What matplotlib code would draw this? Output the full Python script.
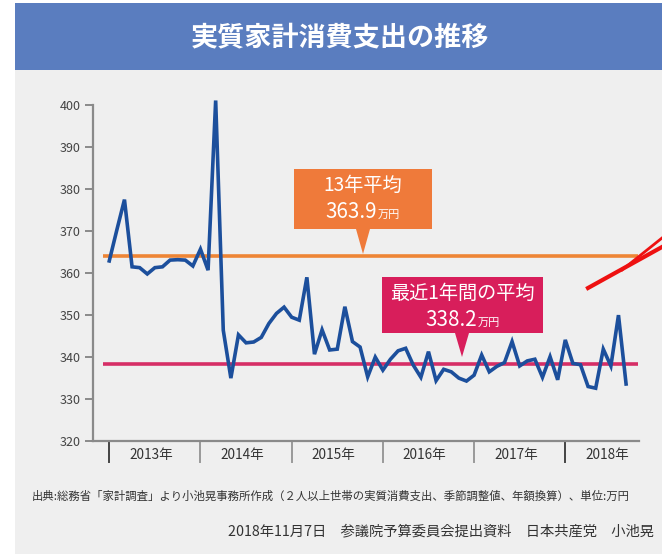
import matplotlib
matplotlib.use("Agg")
import matplotlib.pyplot as plt
from matplotlib.patches import Rectangle, Polygon
import matplotlib.transforms as mtransforms

plt.rcParams['font.family'] = ['Noto Sans CJK JP', 'DejaVu Sans']

# monthly real household consumption, Jan 2013 - Sep 2018 (万円, annualised)
spending = [362.8, 370.2, 377.4, 361.4, 361.2, 359.7, 361.2, 361.4, 363.0, 363.1,
            363.0, 361.6, 365.6, 360.6, 401.0, 346.3, 334.9, 345.2, 343.3, 343.5,
            344.6, 347.9, 350.3, 351.8, 349.4, 348.7, 358.9, 340.6, 346.4, 341.6,
            341.8, 351.9, 343.6, 342.3, 335.2, 339.9, 336.8, 339.4, 341.4, 342.0,
            338.0, 335.1, 341.2, 334.3, 337.0, 336.4, 334.9, 334.2, 335.6, 340.4,
            336.4, 337.7, 338.6, 343.6, 337.8, 339.0, 339.4, 335.1, 340.0, 334.5,
            344.0, 338.4, 338.1, 332.9, 332.5, 341.8, 337.8, 349.9, 333.5]
years = ["2013年", "2014年", "2015年", "2016年", "2017年", "2018年"]
yticks = [320, 330, 340, 350, 360, 370, 380, 390, 400]
avg_13 = 363.9
avg_recent = 338.2

W, H = 662, 554
fig = plt.figure(figsize=(W / 100, H / 100), dpi=100, facecolor="white")

def fx(px):
    return px / W

def fy(py):
    return 1 - py / H

# background panel + header band (kept behind the axes)
fig.add_artist(Rectangle((fx(15), 0), 1 - fx(15), fy(70), transform=fig.transFigure,
                         facecolor="#efefef", edgecolor="none", zorder=-2))
fig.add_artist(Rectangle((fx(15), fy(70)), 1 - fx(15), fy(3) - fy(70), transform=fig.transFigure,
                         facecolor="#5a7dbf", edgecolor="none", zorder=-2))
fig.text(fx(340), fy(37), "実質家計消費支出の推移", color="white", fontsize=19.5,
         fontweight="bold", ha="center", va="center")

ax = fig.add_axes([fx(93), fy(440.7), fx(639) - fx(93), fy(96.3) - fy(440.7)])
ax.set_facecolor("none")
months = list(range(len(spending)))
ax.set_xlim(-2.14, 69.7)
ax.set_ylim(320, 402)

ax.plot([-0.83, 69.6], [avg_13, avg_13], color="#ee8535", lw=2.6, zorder=2, solid_capstyle="butt")
ax.plot([-0.83, 69.6], [avg_recent, avg_recent], color="#d62e66", lw=2.6, zorder=2, solid_capstyle="butt")
ax.plot(months, spending, color="#1c4f9c", lw=2.6, zorder=3, solid_joinstyle="miter")

for s in ["top", "right"]:
    ax.spines[s].set_visible(False)
ax.spines["left"].set_bounds(320, 400)
for s in ["left", "bottom"]:
    ax.spines[s].set_color("#8a8a8a")
    ax.spines[s].set_linewidth(1.6)
ax.set_yticks(yticks)
ax.tick_params(axis="y", length=6, width=1.4, color="#8a8a8a", labelsize=9, labelcolor="#444444", pad=3)
ax.set_xticks([])

# year separators and labels below the axis
trans = mtransforms.blended_transform_factory(ax.transData, ax.transAxes)
for k in range(len(years)):
    ax.plot([12 * k, 12 * k], [0, -0.062], transform=trans, clip_on=False,
            color="#444444" if k in (0, 5) else "#999999", lw=1.4)
    ax.text(12 * k + 5.5, -0.042, years[k], transform=trans, ha="center", va="center",
            fontsize=9.8, color="#333333")

# callout boxes
def callout(x0, x1, y0, y1, tip_x, tip_y, color, line1, value):
    fig.add_artist(Polygon([(fx(x0), fy(y0)), (fx(x1), fy(y0)), (fx(x1), fy(y1)),
                            (fx(tip_x + 7), fy(y1)), (fx(tip_x), fy(tip_y)),
                            (fx(tip_x - 7), fy(y1)), (fx(x0), fy(y1))],
                           closed=True, transform=fig.transFigure,
                           facecolor=color, edgecolor="none", zorder=4))
    cx = (x0 + x1) / 2
    fig.text(fx(cx), fy(y0 + 16), line1, color="white", fontsize=13.8, ha="center", va="center", zorder=5)
    fig.text(fx(cx + 14), fy(y0 + 43), value, color="white", fontsize=14.8, ha="right", va="center", zorder=5)
    fig.text(fx(cx + 15), fy(y0 + 46), "万円", color="white", fontsize=8, ha="left", va="center", zorder=5)

callout(294, 432, 169, 229, 363, 254, "#ef7a3a", "13年平均", f"{avg_13}")
callout(382, 543, 277, 333, 462, 357, "#d81e5b", "最近1年間の平均", f"{avg_recent}")

# red hand-drawn arrow
fig.add_artist(plt.Line2D([fx(588), fx(662)], [fy(288), fy(247)], transform=fig.transFigure,
                          color="#ee1111", lw=3, zorder=6))
fig.add_artist(plt.Line2D([fx(622), fx(662)], [fy(270), fy(238)], transform=fig.transFigure,
                          color="#ee1111", lw=2, zorder=6))

# footer
fig.text(fx(32), fy(496), "出典:総務省「家計調査」より小池晃事務所作成（２人以上世帯の実質消費支出、季節調整値、年額換算）、単位:万円",
         fontsize=8.2, color="#333333", ha="left", va="center")
fig.text(fx(228), fy(531), "2018年11月7日　参議院予算委員会提出資料　日本共産党　小池晃",
         fontsize=10.3, color="#333333", ha="left", va="center")

fig.savefig("out.png", dpi=100)
